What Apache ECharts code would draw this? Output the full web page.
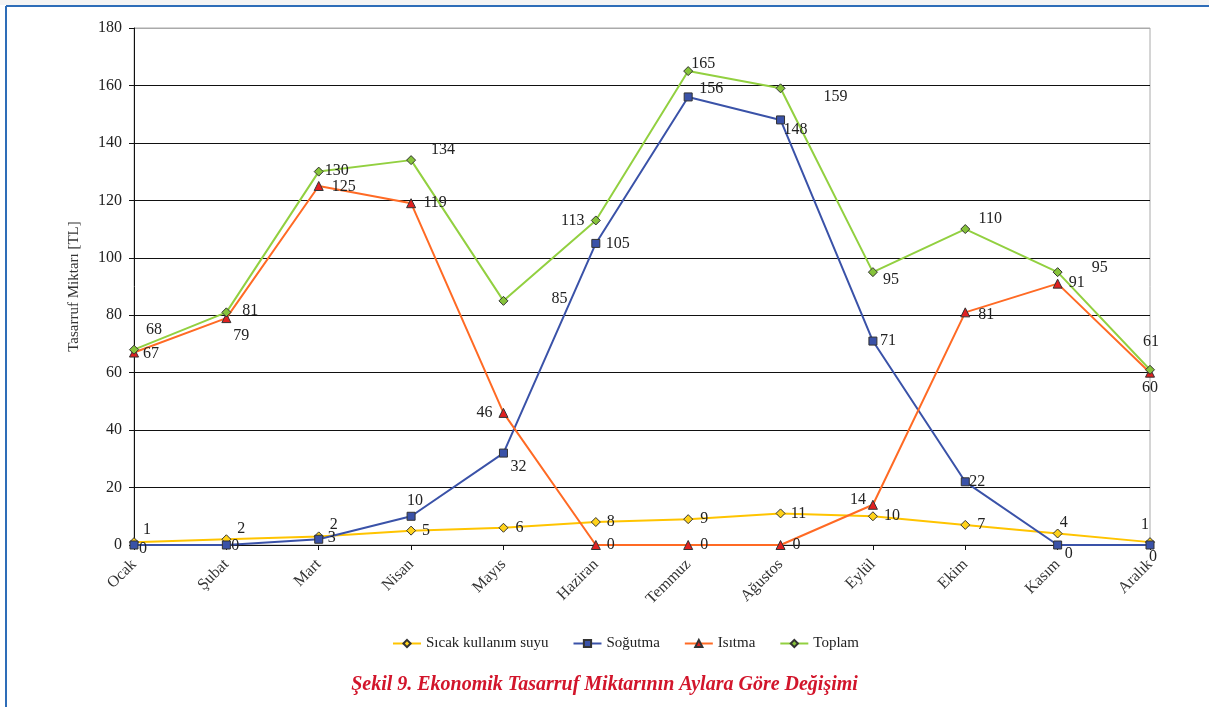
<!DOCTYPE html>
<html>
<head>
<meta charset="utf-8">
<script src="https://cdn.jsdelivr.net/npm/echarts@6/dist/echarts.min.js"></script>
<style>
  html, body { margin: 0; padding: 0; background: #fff; }
  #main { width: 1209px; height: 707px; }
</style>
</head>
<body>
<div id="main"></div>
<script>
// months
const months = ["Ocak", "Şubat", "Mart", "Nisan", "Mayıs", "Haziran", "Temmuz", "Ağustos", "Eylül", "Ekim", "Kasım", "Aralık"];
const yTicks = [0, 20, 40, 60, 80, 100, 120, 140, 160, 180];

// values
const sicakSu = [1, 2, 3, 5, 6, 8, 9, 11, 10, 7, 4, 1];
const sogutma = [0, 0, 2, 10, 32, 105, 156, 148, 71, 22, 0, 0];
const isitma = [67, 79, 125, 119, 46, 0, 0, 0, 14, 81, 91, 60];
const toplam = [68, 81, 130, 134, 85, 113, 165, 159, 95, 110, 95, 61];

// where each value label sits relative to its point (px)
const sicakOff = [[13,-12],[15,-10],[13,1],[15,0],[16,0],[15,0],[16,0],[18,0],[19,0],[16,0],[6,-11],[-5,-17]];
const sogutmaOff = [[9,4],[9,1],[15,-14],[4,-15],[15,14],[22,0],[23,-8],[15,10],[15,0],[12,0],[11,9],[3,12]];
const isitmaOff = [[17,1],[15,18],[25,1],[24,0],[-19,0],[15,0],[16,0],[16,0],[-15,-5],[21,2],[19,-1],[0,15]];
const toplamOff = [[20,-20],[24,-2],[18,-1],[32,-10],[56,-2],[-23,0],[15,-7],[55,8],[18,8],[25,-10],[42,-4],[1,-28]];

const serif = "'Liberation Serif', 'DejaVu Serif', serif";

function withLabels(values, offsets) {
  return values.map((v, i) => ({
    value: v,
    label: { show: true, position: "inside", offset: offsets[i] }
  }));
}

function makeSeries(name, values, offsets, color, markColor, symbol, size) {
  return {
    name: name,
    type: "line",
    data: withLabels(values, offsets),
    symbol: symbol,
    symbolSize: size,
    showAllSymbol: true,
    lineStyle: { color: color, width: 2 },
    itemStyle: { color: markColor, borderColor: "#333", borderWidth: 1 },
    label: { fontFamily: serif, fontSize: 16, color: "#222" },
    emphasis: { disabled: true },
    animation: false
  };
}

const gridColors = yTicks.map((t) => (t === 180 ? "#aaa" : "#111"));

let options = {
  backgroundColor: "#fff",
  title: {
    text: "Şekil 9. Ekonomik Tasarruf Miktarının Aylara Göre Değişimi",
    left: "center",
    top: 670,
    textStyle: { fontFamily: serif, fontSize: 20, fontWeight: "bold", fontStyle: "italic", color: "#d2152b" }
  },
  legend: {
    left: 387,
    top: 631,
    itemWidth: 28,
    itemHeight: 9,
    itemGap: 24,
    textStyle: { fontFamily: serif, fontSize: 15, color: "#222" },
    data: ["Sıcak kullanım suyu", "Soğutma", "Isıtma", "Toplam"]
  },
  grid: { left: 134, right: 59, top: 28, bottom: 162, show: true, borderColor: "#aaa", borderWidth: 1 },
  xAxis: {
    type: "category",
    data: months,
    boundaryGap: false,
    axisLine: { lineStyle: { color: "#111", width: 1 } },
    axisTick: { show: true, alignWithLabel: true, length: 5, lineStyle: { color: "#111" } },
    axisLabel: { rotate: 45, margin: 17, fontFamily: serif, fontSize: 16, color: "#333", interval: 0 }
  },
  yAxis: {
    type: "value",
    min: 0,
    max: 180,
    interval: 20,
    name: "Tasarruf Miktarı [TL]",
    nameLocation: "middle",
    nameGap: 52,
    nameTextStyle: { fontFamily: serif, fontSize: 15, color: "#333" },
    axisLine: { show: true, lineStyle: { color: "#111", width: 1 } },
    axisTick: { show: true, length: 5, lineStyle: { color: "#111" } },
    axisLabel: { fontFamily: serif, fontSize: 16, color: "#222", margin: 12 },
    splitLine: { lineStyle: { color: gridColors, width: 1 } }
  },
  graphic: [
    { type: "rect", shape: { x: 0, y: 0, width: 1209, height: 5 }, style: { fill: "#f4f4f4" }, silent: true },
    { type: "line", shape: { x1: 6, y1: 6, x2: 1209, y2: 6 }, style: { stroke: "#2e6db8", lineWidth: 2 }, silent: true },
    { type: "line", shape: { x1: 6, y1: 6, x2: 6, y2: 707 }, style: { stroke: "#2e6db8", lineWidth: 2 }, silent: true }
  ],
  series: [
    makeSeries("Sıcak kullanım suyu", sicakSu, sicakOff, "#ffc400", "#ffd21a", "diamond", 9),
    makeSeries("Soğutma", sogutma, sogutmaOff, "#3a52a8", "#3a52a8", "rect", 8),
    makeSeries("Isıtma", isitma, isitmaOff, "#ff6a24", "#e02020", "triangle", 9),
    makeSeries("Toplam", toplam, toplamOff, "#92d040", "#86c33a", "diamond", 9)
  ]
};

let myChart = echarts.init(document.getElementById("main"));
myChart.setOption(options);
</script>
</body>
</html>
